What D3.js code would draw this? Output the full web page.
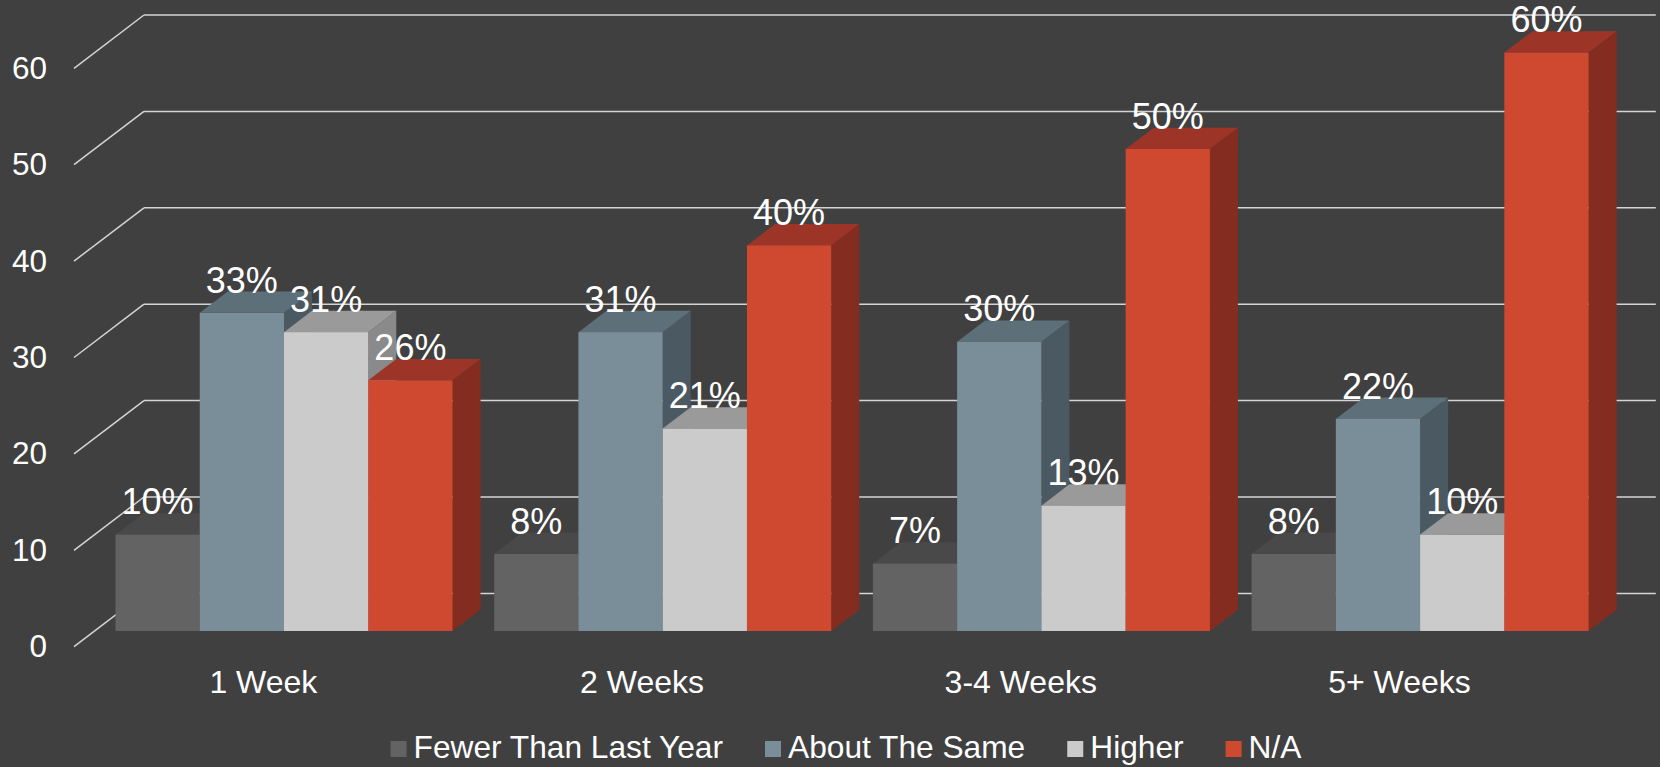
<!DOCTYPE html>
<meta charset="utf-8" />
<html>
<head>
<script src="https://d3js.org/d3.v7.min.js"></script>
<style>
  body { margin: 0; background: #404040; }
  text { font-family: "Liberation Sans", Arial, sans-serif; fill: #ffffff; }
</style>
</head>
<body>
<script>
// chart data
var categories = ['1 Week', '2 Weeks', '3-4 Weeks', '5+ Weeks'];
var seriesNames = ['Fewer Than Last Year', 'About The Same', 'Higher', 'N/A'];
var fewer = [10, 8, 7, 8];
var same = [33, 31, 30, 22];
var higher = [31, 21, 13, 10];
var na = [26, 40, 50, 60];
var yTicks = [0, 10, 20, 30, 40, 50, 60];

// face colours for each series: front, top, side
var colors = [
  {front: '#636363', top: '#494949', side: '#555555'},
  {front: '#7a8e9a', top: '#5d6f78', side: '#4b5a62'},
  {front: '#cbcbcb', top: '#9a9a9a', side: '#8a8a8a'},
  {front: '#cf4931', top: '#9c3527', side: '#852c21'}
];

var width = 1660, height = 767;
var svg = d3.select('body').append('svg')
    .attr('width', width)
    .attr('height', height);

// oblique 3d: back wall, bar plane and floor front edge
var backLeft = 144, backBase = 593.4;
var depthX = -70, depthY = 53.3;      // back wall -> front edge of floor
var barPlane = 0.705;                 // where the bar front faces sit
var barDepth = 0.4;                   // bar thickness as a share of floor depth
var span = 1514.8;

var plotH = 578.4;
var h = d3.scaleLinear().domain([0, 60]).range([0, plotH]);

var planeX = backLeft + depthX * barPlane;
var planeBase = backBase + depthY * barPlane;
var bdx = -depthX * barDepth, bdy = -depthY * barDepth;

var x0 = d3.scaleBand().domain(categories)
    .range([planeX, planeX + span])
    .paddingInner(0.11).paddingOuter(0.055);
var x1 = d3.scaleBand().domain(seriesNames).range([0, x0.bandwidth()]);

// gridlines on back wall plus the diagonal on the left side
var grid = svg.append('g');
grid.selectAll('line.h')
    .data(yTicks)
    .enter()
    .append('line')
    .attr('class', 'h')
    .attr('x1', backLeft)
    .attr('x2', backLeft + span - 3)
    .attr('y1', function(d) { return backBase - h(d); })
    .attr('y2', function(d) { return backBase - h(d); })
    .attr('stroke', '#d4d4d4')
    .attr('stroke-width', 1.5);
grid.selectAll('line.d')
    .data(yTicks)
    .enter()
    .append('line')
    .attr('class', 'd')
    .attr('x1', backLeft)
    .attr('x2', backLeft + depthX)
    .attr('y1', function(d) { return backBase - h(d); })
    .attr('y2', function(d) { return backBase - h(d) + depthY; })
    .attr('stroke', '#d4d4d4')
    .attr('stroke-width', 1.5);

// y axis labels at the front edge of the floor
var yFront = d3.scaleLinear().domain([0, 60])
    .range([backBase + depthY, backBase + depthY - plotH]);
var yAxis = svg.append('g')
    .attr('transform', 'translate(' + (backLeft + depthX) + ',0)')
    .call(d3.axisLeft(yFront).tickValues(yTicks).tickSize(0).tickPadding(27));
yAxis.select('.domain').remove();
yAxis.selectAll('text')
    .style('font-family', '"Liberation Sans", Arial, sans-serif')
    .style('font-size', '31.5px')
    .attr('fill', '#ffffff');

// category labels, centred on the front edge of the floor
var xFront = x0.copy().range([planeX + depthX * (1 - barPlane), planeX + depthX * (1 - barPlane) + span]);
var xAxis = svg.append('g')
    .attr('transform', 'translate(0,' + (backBase + depthY) + ')')
    .call(d3.axisBottom(xFront).tickSize(0).tickPadding(24));
xAxis.select('.domain').remove();
xAxis.selectAll('text')
    .style('font-family', '"Liberation Sans", Arial, sans-serif')
    .style('font-size', '32px')
    .attr('fill', '#ffffff');

var rows = categories.map(function(c, i) {
  return [fewer[i], same[i], higher[i], na[i]].map(function(v, j) {
    return {cat: c, name: seriesNames[j], value: v, idx: j};
  });
});

var bars = svg.append('g');
rows.forEach(function(row) {
  row.forEach(function(d) {
    var xl = x0(d.cat) + x1(d.name);
    var xr = xl + x1.bandwidth();
    var yt = planeBase - h(d.value);
    var yb = planeBase;
    var c = colors[d.idx];
    var g = bars.append('g');
    // right side
    g.append('path')
        .attr('d', 'M' + xr + ',' + yb + 'L' + (xr + bdx) + ',' + (yb + bdy) +
                   'L' + (xr + bdx) + ',' + (yt + bdy) + 'L' + xr + ',' + yt + 'Z')
        .attr('fill', c.side);
    // top
    g.append('path')
        .attr('d', 'M' + xl + ',' + yt + 'L' + (xl + bdx) + ',' + (yt + bdy) +
                   'L' + (xr + bdx) + ',' + (yt + bdy) + 'L' + xr + ',' + yt + 'Z')
        .attr('fill', c.top);
    // front
    g.append('rect')
        .attr('x', xl)
        .attr('y', yt)
        .attr('width', x1.bandwidth())
        .attr('height', yb - yt)
        .attr('fill', c.front);
  });
});

// value labels
var labels = svg.append('g');
rows.forEach(function(row) {
  labels.selectAll(null)
      .data(row)
      .enter()
      .append('text')
      .attr('x', function(d) { return x0(d.cat) + x1(d.name) + x1.bandwidth() / 2; })
      .attr('y', function(d) { return planeBase - h(d.value) + bdy + 1; })
      .attr('text-anchor', 'middle')
      .style('font-size', '36px')
      .text(function(d) { return d.value + '%'; });
});

// legend
var legend = svg.append('g');
var lx = 0;
seriesNames.forEach(function(name, i) {
  var it = legend.append('g').attr('transform', 'translate(' + lx + ',0)');
  it.append('rect')
      .attr('x', 0)
      .attr('y', 741)
      .attr('width', 16)
      .attr('height', 16)
      .attr('fill', colors[i].front);
  var t = it.append('text')
      .attr('x', 23)
      .attr('y', 758)
      .style('font-size', '31.7px')
      .text(name);
  lx += 23 + t.node().getComputedTextLength() + 42;
});
var legendW = lx - 42;
legend.attr('transform', 'translate(' + (846 - legendW / 2) + ',0)');
</script>
</body>
</html>
